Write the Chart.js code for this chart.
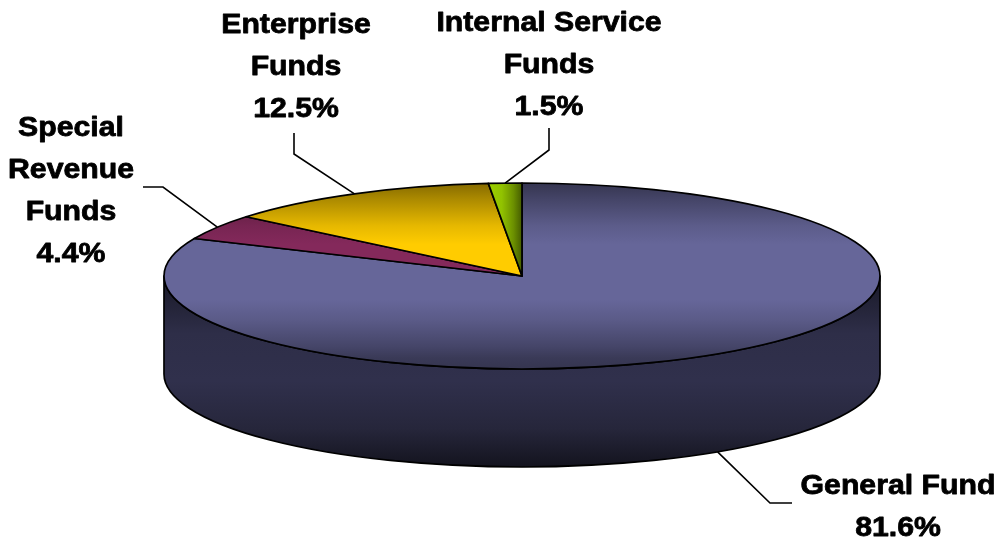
<!DOCTYPE html>
<html>
<head>
<meta charset="utf-8">
<title>Fund Share</title>
<script src="https://cdn.jsdelivr.net/npm/chart.js@4.4.1/dist/chart.umd.min.js"></script>
<style>
  html, body { margin: 0; padding: 0; background: #fff; overflow: hidden; }
  #wrap { width: 1005px; height: 542px; }
</style>
</head>
<body>
<div id="wrap"><canvas id="chart" width="1005" height="542"></canvas></div>
<script>
// Fund categories and their share of the total (percent)
const categories = ['General Fund', 'Special Revenue Funds', 'Enterprise Funds', 'Internal Service Funds'];
const shares = [81.6, 4.4, 12.5, 1.5];
// Label text, split into the lines shown above each percentage
const labelLines = [
  ['General Fund'],
  ['Special', 'Revenue', 'Funds'],
  ['Enterprise', 'Funds'],
  ['Internal Service', 'Funds']
];

// Styling
const topColors = ['#666699', '#84295b', '#ffcc00', '#99cc00'];
const sideColors = ['#2e2e48', '#5a1a3c', '#b08c00', '#5c7a00'];
const faceShading = ['vertical', 'vertical', 'vertical', 'horizontal'];

// 3D disc geometry (pixels)
const DISC = { rx: 358, ry: 93, depth: 98 };

// Label placement: first baseline, leader start and elbow, which rim the leader meets
const labelPlacement = [
  { x: 898, y: 494, start: [792, 503], elbow: [770, 503], rim: 'bottom' },
  { x: 71,  y: 136, start: [143, 187], elbow: [163, 187], rim: 'top' },
  { x: 296, y: 33,  start: [294, 133], elbow: [294, 154], rim: 'top' },
  { x: 549, y: 31,  start: [549, 128], elbow: [549, 150], rim: 'top' }
];
const LINE_HEIGHT = 42;

function shade(hex, f) {
  const n = parseInt(hex.slice(1), 16);
  const c = [(n >> 16) & 255, (n >> 8) & 255, n & 255].map(v => Math.max(0, Math.min(255, Math.round(v * f))));
  return `rgb(${c[0]},${c[1]},${c[2]})`;
}

function gradient(ctx, x0, y0, x1, y1, base, stops) {
  const g = ctx.createLinearGradient(x0, y0, x1, y1);
  stops.forEach(([p, f]) => g.addColorStop(p, shade(base, f)));
  return g;
}

const TOP_STOPS = [[0, 0.52], [0.09, 0.68], [0.23, 0.9], [0.33, 1], [0.63, 1], [0.74, 0.88], [0.88, 0.68], [0.94, 0.57], [1, 0.52]];
const SIDE_STOPS = [[0, 0.55], [0.12, 0.72], [0.3, 1], [0.55, 1.05], [0.8, 0.82], [1, 0.42]];
const ACROSS_STOPS = [[0, 1.02], [0.4, 0.95], [0.75, 0.7], [1, 0.45]];

// Renders the pie arcs computed by Chart.js as an extruded elliptical disc
const disc3d = {
  id: 'disc3d',
  beforeDatasetsDraw(chart) {
    const ctx = chart.ctx;
    const arcs = chart.getDatasetMeta(0).data;
    const cx = arcs[0].x, cy = arcs[0].y;
    const { rx, ry, depth } = DISC;
    ctx.save();
    ctx.lineJoin = 'round';
    ctx.lineWidth = 1.7;
    ctx.strokeStyle = '#000';

    // front-facing side walls
    arcs.forEach((arc, i) => {
      for (const k of [-1, 0, 1]) {
        const lo = Math.max(arc.startAngle, k * 2 * Math.PI);
        const hi = Math.min(arc.endAngle, k * 2 * Math.PI + Math.PI);
        if (hi - lo > 1e-4) {
          ctx.beginPath();
          ctx.ellipse(cx, cy, rx, ry, 0, lo, hi, false);
          ctx.ellipse(cx, cy + depth, rx, ry, 0, hi, lo, true);
          ctx.closePath();
          ctx.fillStyle = gradient(ctx, 0, cy, 0, cy + ry + depth, sideColors[i], SIDE_STOPS);
          ctx.fill();
          ctx.stroke();
        }
      }
    });

    // top faces
    arcs.forEach((arc, i) => {
      ctx.beginPath();
      ctx.moveTo(cx, cy);
      ctx.ellipse(cx, cy, rx, ry, 0, arc.startAngle, arc.endAngle, false);
      ctx.closePath();
      if (faceShading[i] === 'horizontal') {
        const xs = [cx, cx + rx * Math.cos(arc.startAngle), cx + rx * Math.cos(arc.endAngle)];
        ctx.fillStyle = gradient(ctx, Math.min(...xs), 0, Math.max(...xs), 0, topColors[i], ACROSS_STOPS);
      } else {
        ctx.fillStyle = gradient(ctx, 0, cy - ry, 0, cy + ry, topColors[i], TOP_STOPS);
      }
      ctx.fill();
      ctx.stroke();
    });
    ctx.restore();
    return false;
  },
  afterDraw(chart) {
    const ctx = chart.ctx;
    const arcs = chart.getDatasetMeta(0).data;
    const cx = arcs[0].x, cy = arcs[0].y;
    const { rx, ry, depth } = DISC;
    ctx.save();
    // leader lines
    ctx.strokeStyle = '#000';
    ctx.lineWidth = 1.6;
    arcs.forEach((arc, i) => {
      const p = labelPlacement[i];
      const mid = (arc.startAngle + arc.endAngle) / 2;
      const tx = cx + rx * Math.cos(mid);
      const ty = cy + ry * Math.sin(mid) + (p.rim === 'bottom' ? depth : 0);
      ctx.beginPath();
      ctx.moveTo(p.start[0], p.start[1]);
      ctx.lineTo(p.elbow[0], p.elbow[1]);
      ctx.lineTo(tx, ty);
      ctx.stroke();
    });
    // labels
    ctx.fillStyle = '#000';
    ctx.strokeStyle = '#000';
    ctx.lineWidth = 0.8;
    ctx.lineJoin = 'round';
    ctx.font = 'bold 28px "Liberation Sans", Arial, sans-serif';
    ctx.textAlign = 'center';
    ctx.textBaseline = 'alphabetic';
    labelLines.forEach((lines, i) => {
      const p = labelPlacement[i];
      const all = lines.concat([shares[i].toFixed(1) + '%']);
      all.forEach((t, j) => {
        ctx.save();
        ctx.translate(p.x, p.y + j * LINE_HEIGHT);
        ctx.scale(1.08, 1);
        ctx.fillText(t, 0, 0);
        ctx.strokeText(t, 0, 0);
        ctx.restore();
      });
    });
    ctx.restore();
  }
};

new Chart(document.getElementById('chart'), {
  type: 'pie',
  data: {
    labels: categories,
    datasets: [{ data: shares, backgroundColor: topColors, borderWidth: 0 }]
  },
  options: {
    responsive: false,
    devicePixelRatio: 1,
    animation: false,
    events: [],
    layout: { padding: { left: 39, top: 10, right: 0, bottom: 0 } },
    plugins: { legend: { display: false }, tooltip: { enabled: false } }
  },
  plugins: [disc3d]
});
</script>
</body>
</html>
